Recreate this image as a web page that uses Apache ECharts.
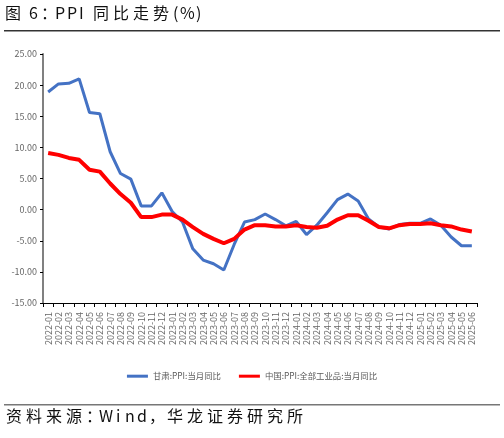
<!DOCTYPE html>
<html>
<head>
<meta charset="utf-8">
<script src="https://cdn.jsdelivr.net/npm/echarts@6/dist/echarts.min.js"></script>
<style>
  html, body { margin: 0; padding: 0; background: #fff; }
  #chart { width: 504px; height: 438px; }
</style>
</head>
<body>
<div id="chart"></div>
<script>
const months = [
  '2022-01', '2022-02', '2022-03', '2022-04', '2022-05', '2022-06', '2022-07', '2022-08', '2022-09', '2022-10', '2022-11', '2022-12',
  '2023-01', '2023-02', '2023-03', '2023-04', '2023-05', '2023-06', '2023-07', '2023-08', '2023-09', '2023-10', '2023-11', '2023-12',
  '2024-01', '2024-02', '2024-03', '2024-04', '2024-05', '2024-06', '2024-07', '2024-08', '2024-09', '2024-10', '2024-11', '2024-12',
  '2025-01', '2025-02', '2025-03', '2025-04', '2025-05', '2025-06'
];

const gansuPpi = [
  18.9, 20.2, 20.3, 21.0, 15.6, 15.4, 9.3, 5.8, 4.9, 0.6, 0.6, 2.7,
  -0.3, -2.0, -6.3, -8.1, -8.7, -9.7, -5.6, -2.0, -1.6, -0.7, -1.6, -2.6,
  -1.9, -4.0, -2.5, -0.5, 1.6, 2.5, 1.4, -1.5, -2.8, -3.1, -2.4, -2.2,
  -2.2, -1.5, -2.5, -4.4, -5.8, -5.8
];

const chinaPpi = [
  9.1, 8.8, 8.3, 8.0, 6.4, 6.1, 4.2, 2.5, 1.1, -1.2, -1.2, -0.8,
  -0.8, -1.6, -2.8, -3.9, -4.7, -5.4, -4.7, -3.2, -2.5, -2.5, -2.7, -2.7,
  -2.5, -2.8, -2.9, -2.6, -1.6, -0.9, -0.9, -1.8, -2.8, -3.0, -2.5, -2.3,
  -2.3, -2.2, -2.5, -2.7, -3.2, -3.5
];

const seriesNames = ['甘肃:PPI:当月同比', '中国:PPI:全部工业品:当月同比'];
const titleText = '图 6：PPI 同比走势(%)';
const sourceText = '资料来源：Wind，华龙证券研究所';

const narrowFont = '"Liberation Sans Narrow", "Noto Sans CJK SC", sans-serif';
const cjkFont = '"Noto Sans CJK SC", sans-serif';

// lay text out one glyph at a time so it gets the wide report-style spacing
function spacedText(text, x0, top, size, advance) {
  const out = [];
  let x = x0;
  for (const ch of text) {
    out.push({
      type: 'text',
      left: x,
      top: top,
      style: { text: ch, font: size + 'px ' + cjkFont, fill: '#111' }
    });
    x += advance(ch);
  }
  return out;
}

function titleAdvance(ch) {
  if (ch === ' ') return 4;
  if (ch === '：') return 14;
  if (ch === '(' || ch === ')') return 7;
  if (ch === '%') return 16;
  if (ch === 'I') return 10;
  if (/[0-9A-Z]/.test(ch)) return 12;
  return 20;
}

function sourceAdvance(ch) {
  if (ch === '：') return 13;
  if (ch === 'W') return 17;
  if (ch === 'i') return 9;
  if (/[a-z]/.test(ch)) return 12;
  if (ch === '，') return 18;
  return 20;
}

const chart = echarts.init(document.getElementById('chart'), null, { renderer: 'canvas' });

chart.setOption({
  animation: false,
  backgroundColor: '#fff',
  grid: { left: 43, top: 54, width: 434, height: 249, containLabel: false },
  legend: {
    top: 367,
    left: 'center',
    itemWidth: 21,
    itemHeight: 3,
    itemGap: 18,
    icon: 'rect',
    textStyle: { fontFamily: narrowFont, fontSize: 8.4, color: '#595959' },
    data: seriesNames
  },
  xAxis: [
    {
      type: 'category',
      data: months,
      position: 'bottom',
      axisLine: { show: false },
      axisTick: { show: false },
      axisLabel: {
        rotate: 90,
        interval: 0,
        margin: 9,
        fontFamily: narrowFont,
        fontSize: 9,
        color: '#666'
      }
    },
    {
      type: 'category',
      data: months,
      position: 'bottom',
      axisLine: { show: true, onZero: true, lineStyle: { color: '#000', width: 1 } },
      axisTick: { show: true, length: 4, interval: 0, lineStyle: { color: '#000' } },
      axisLabel: { show: false }
    }
  ],
  yAxis: {
    type: 'value',
    min: -15,
    max: 25,
    interval: 5,
    axisLine: { show: true, lineStyle: { color: '#808080', width: 2 } },
    axisTick: { show: true, length: 3, lineStyle: { color: '#000' } },
    splitLine: { show: false },
    axisLabel: {
      formatter: v => v.toFixed(2),
      fontFamily: narrowFont,
      fontSize: 9,
      color: '#666',
      margin: 6
    }
  },
  series: [
    {
      name: seriesNames[0],
      type: 'line',
      data: gansuPpi,
      showSymbol: false,
      lineStyle: { color: '#4472C4', width: 3 },
      itemStyle: { color: '#4472C4' },
      z: 2
    },
    {
      name: seriesNames[1],
      type: 'line',
      data: chinaPpi,
      showSymbol: false,
      lineStyle: { color: '#FF0000', width: 4 },
      itemStyle: { color: '#FF0000' },
      z: 3
    }
  ],
  graphic: [
    ...spacedText(titleText, 5, 5, 16, titleAdvance),
    {
      type: 'rect',
      shape: { x: 4, y: 30, width: 496, height: 1.5 },
      style: { fill: '#333' }
    },
    {
      type: 'rect',
      shape: { x: 4, y: 404, width: 496, height: 1.5 },
      style: { fill: '#777' }
    },
    ...spacedText(sourceText, 6, 408, 16, sourceAdvance)
  ]
});

window.addEventListener('resize', () => chart.resize());
</script>
</body>
</html>
